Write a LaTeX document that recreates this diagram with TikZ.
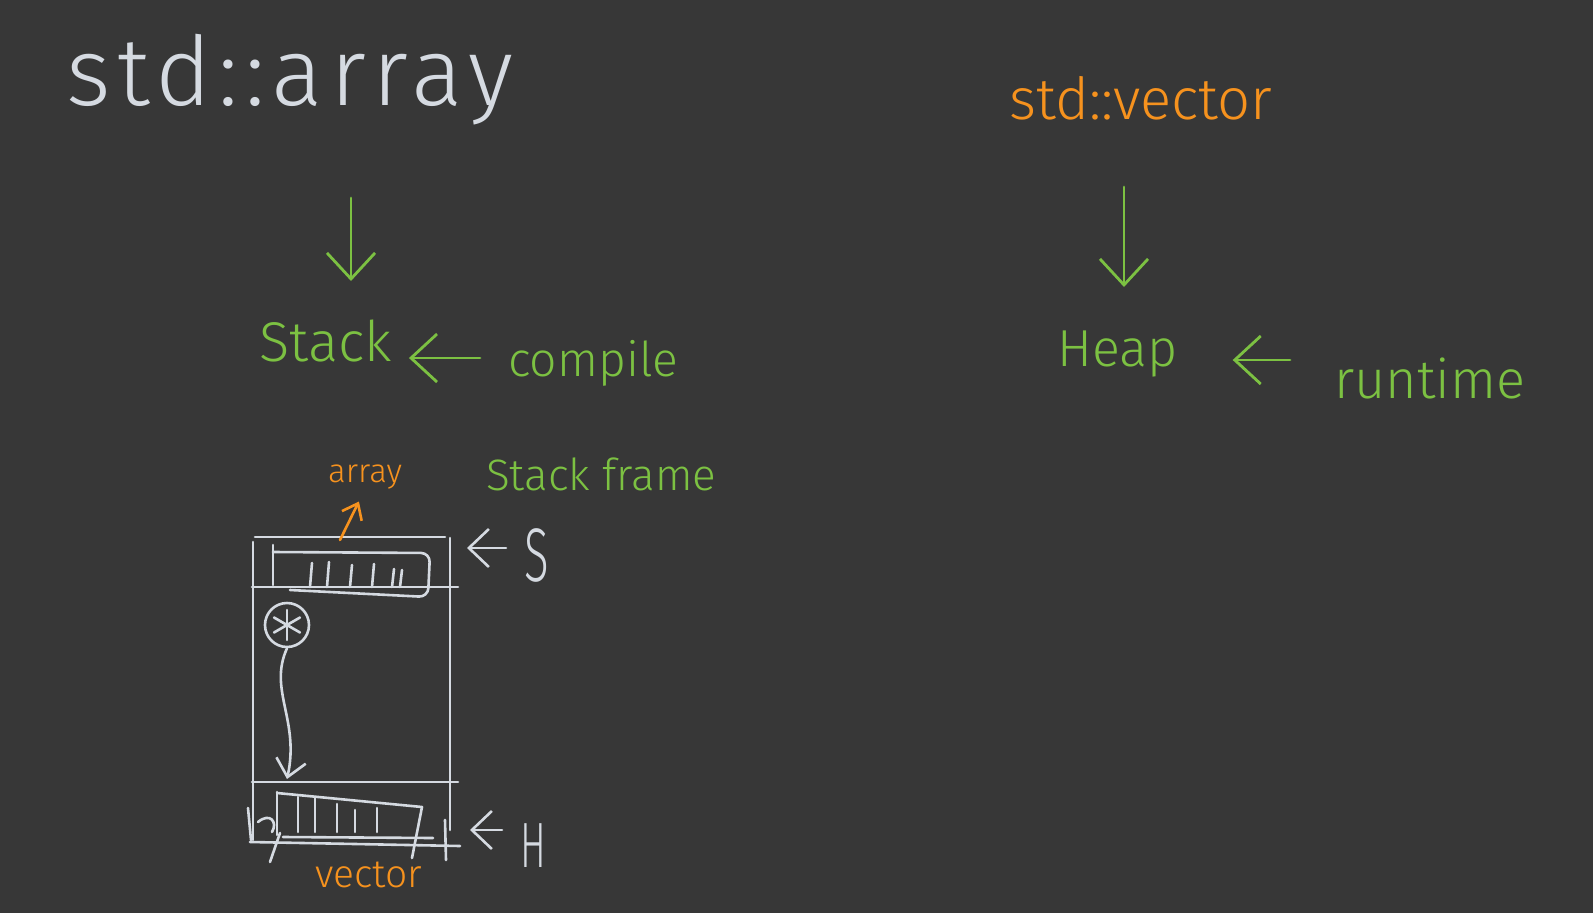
\documentclass[tikz,border=0pt]{standalone}
\usepackage{fontspec}
\setmainfont{Fira Sans}[UprightFont=* Light]
\usetikzlibrary{arrows.meta,positioning}
\definecolor{board}{HTML}{373737}
\definecolor{chalk}{HTML}{D5DAE1}
\definecolor{leaf}{HTML}{7CC142}
\definecolor{peel}{HTML}{F6921E}
\newcommand{\hand}[1]{\fontsize{#1}{#1}\selectfont}
\newcommand{\narrow}[1]{\scalebox{0.6}[1]{#1}}

\begin{document}
\begin{tikzpicture}[
  x=1pt, y=-1pt,
  label/.style={inner sep=0pt, anchor=base west},
  stroke/.style={line width=2.6pt, line cap=round, line join=round, draw=chalk},
  arrow/.style={line width=2.8pt, line cap=round, draw=leaf,
    -{Straight Barb[length=26pt,width=48pt]}},
  smallarrow/.style={line width=2.6pt, line cap=round, draw=chalk,
    -{Straight Barb[length=20pt,width=38pt]}}
]
\fill[board] (0,0) rectangle (1593,913);
\useasboundingbox (0,0) rectangle (1593,913);

% left column
\node[label, text=chalk, font=\hand{96}\addfontfeatures{LetterSpace=7}] (stdarray) at (66,105) {std::array};
\node[label, text=leaf, font=\hand{56}] (stack) at (259,361) {Stack};
\node[label, text=leaf, font=\hand{48}] (compile) at (508,376) {compile};
\draw[arrow, shorten <=93pt, shorten >=80pt] (stdarray.base -| 351,0) -- (stack.base -| 351,0);
\draw[arrow, shorten <=28pt, shorten >=17pt] (compile.west |- 0,358) -- (stack.east |- 0,358);

% right column
\node[label, text=peel, font=\hand{58}] (stdvector) at (1009,119) {std::vector};
\node[label, text=leaf, font=\hand{52}] (heap) at (1057,366) {Heap};
\node[label, text=leaf, font=\hand{54}] (runtime) at (1334,398) {runtime};
\draw[arrow, shorten <=68pt, shorten >=79pt] (stdvector.base -| 1124,0) -- (heap.base -| 1124,0);
\draw[arrow, shorten <=44pt, shorten >=55pt] (runtime.west |- 0,360) -- (heap.east |- 0,360);

% stack frame sketch
\node[label, text=leaf, font=\hand{44}] (frame) at (486,490) {Stack frame};
\node[label, text=peel, font=\hand{33}] (arrlab) at (328,482) {array};
\node[label, text=peel, font=\hand{39}] (veclab) at (315,887) {vector};
\node[label, text=chalk, font=\hand{76}] (slab) at (524,581) {\narrow{S}};
\node[label, text=chalk, font=\hand{64}] (hlab) at (520,867) {\narrow{H}};

\draw[stroke] (255,537) -- (445,537);
\draw[stroke] (253,542) -- (253,840);
\draw[stroke] (450,538) -- (450,830);
\draw[stroke] (252,587) -- (458,587);
\draw[stroke] (252,782) -- (458,782);
\draw[stroke] (250,842) -- (460,846);
\draw[stroke] (445,820) -- (446,860);

% array cells
\draw[stroke] (273,545) -- (273,585);
\draw[stroke, rounded corners=9pt] (273,552) -- (430,553) -- (428,597) -- (290,590);
\foreach \cx/\cy in {312/563, 329/562, 352/565, 374/564, 394/569, 402/570}
  \draw[stroke] (\cx,\cy) -- (\cx-2,587);

% vector cells
\draw[stroke] (277,792) -- (277,835);
\draw[stroke] (277,793) -- (422,807) -- (412,858);
\draw[stroke] (283,837) -- (433,838);
\draw[stroke] (280,833) -- (270,862);
\draw[stroke] (248,808) -- (251,840);
\draw[stroke] (258,822) .. controls (270,812) and (278,822) .. (272,832);
\foreach \cx/\cy in {298/797, 315/798, 337/804, 355/810, 377/808}
  \draw[stroke] (\cx,\cy) -- (\cx,832);

% pointer from stack to heap
\node[draw=chalk, line width=2.6pt, circle, minimum size=44pt, inner sep=0pt] (ptr) at (287,625) {};
\foreach \ang in {90,30,150}
  \draw[stroke] ([shift={(\ang:15pt)}]ptr.center) -- ([shift={(\ang+180:15pt)}]ptr.center);
\coordinate (vecslot) at (287,779);
\draw[stroke, -{Straight Barb[length=17pt,width=30pt]}] (ptr.south) .. controls (268,690) and (300,720) .. (vecslot);

% labels pointing at the frame
\coordinate (arrtop) at (340,540);
\draw[stroke, draw=peel, -{Straight Barb[length=14pt,width=22pt]}, shorten >=14pt] (arrtop) -- (arrlab.south);
\coordinate (slotS) at (450,548);
\coordinate (slotH) at (450,830);
\draw[smallarrow, shorten <=18pt, shorten >=17pt] (slab.west |- slotS) -- (slotS);
\draw[smallarrow, shorten <=18pt, shorten >=20pt] (hlab.west |- slotH) -- (slotH);

\end{tikzpicture}
\end{document}
